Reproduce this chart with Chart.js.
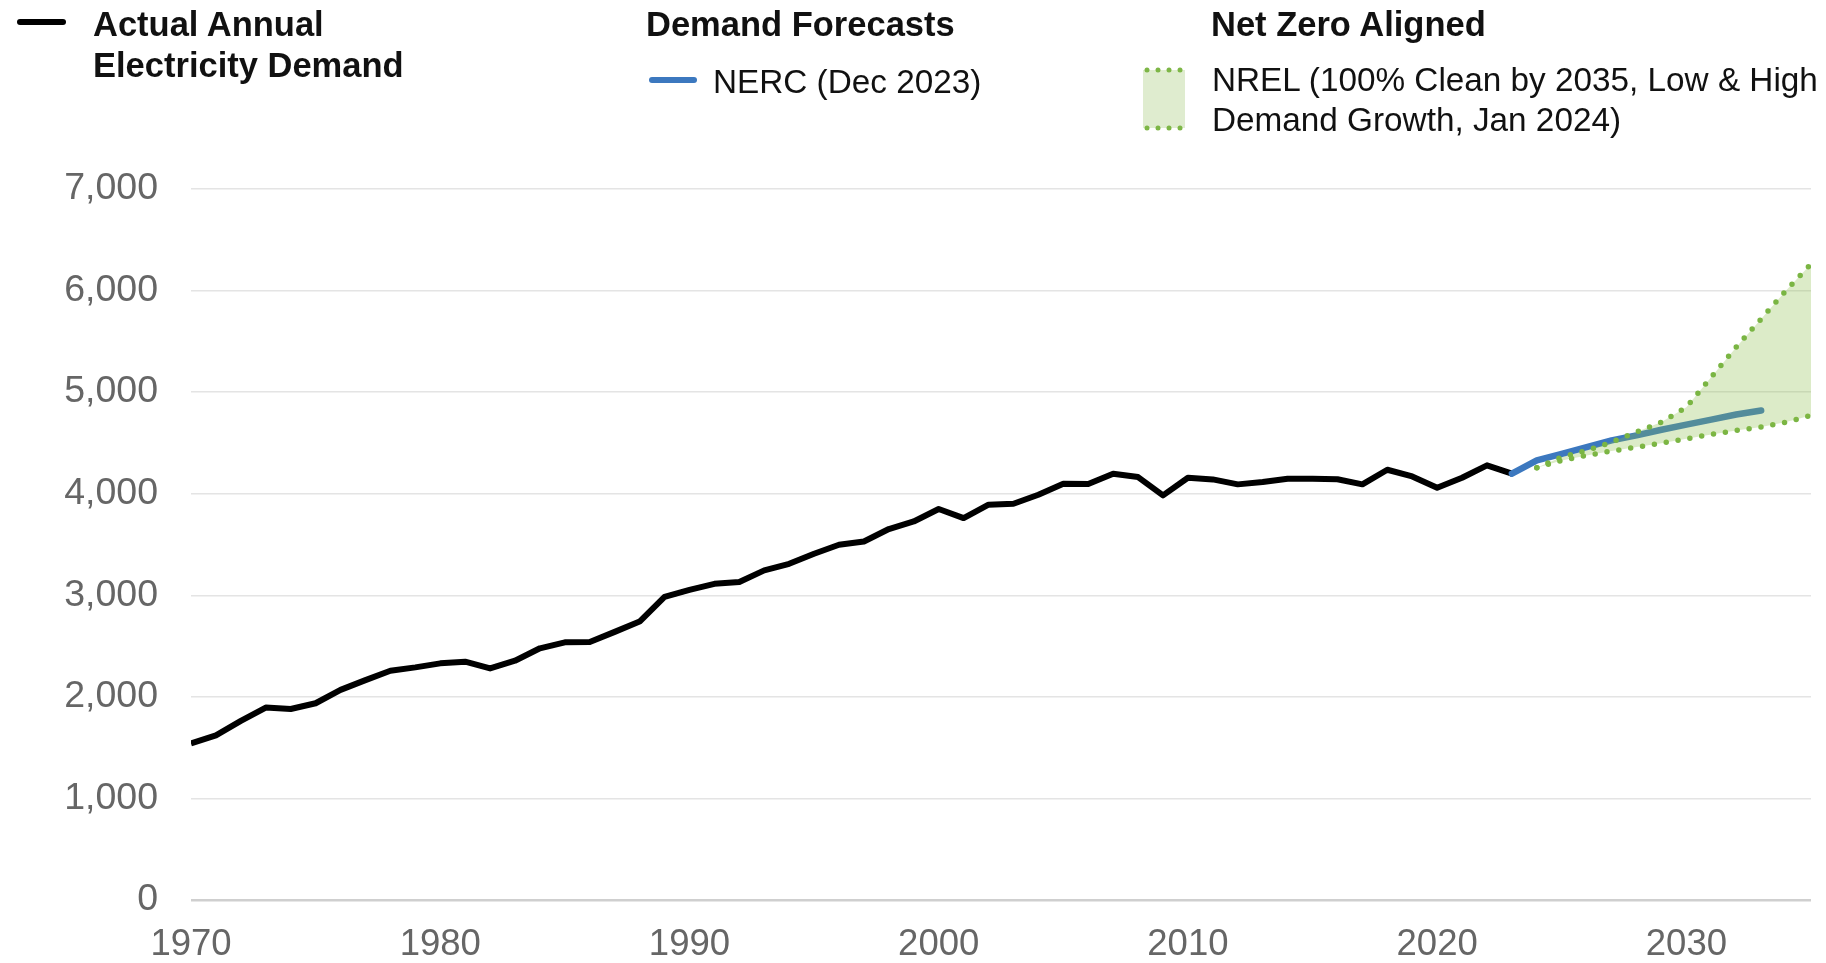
<!DOCTYPE html>
<html>
<head>
<meta charset="utf-8">
<script src="https://cdn.jsdelivr.net/npm/chart.js@4.4.1/dist/chart.umd.min.js"></script>
<style>
  body { margin: 0; background: #fff; }
  #wrap { position: relative; width: 1826px; height: 963px; font-family: "Liberation Sans", Arial, sans-serif; color: #111; }
  canvas { position: absolute; left: 0; top: 0; }
  .lg { position: absolute; white-space: nowrap; }
  .head { font-weight: bold; font-size: 34.5px; line-height: 41px; top: 4px; }
  .item { font-size: 33.3px; line-height: 39.5px; }
  .swatch { position: absolute; height: 5.5px; border-radius: 3px; }
</style>
</head>
<body>
<div id="wrap">
  <canvas id="demand" width="1826" height="963"></canvas>

  <div class="swatch" style="left:17px; top:19px; width:49px; background:#000;"></div>
  <div class="lg head" style="left:93px;">Actual Annual<br>Electricity Demand</div>

  <div class="lg head" style="left:646px;">Demand Forecasts</div>
  <div class="swatch" style="left:649px; top:77px; width:48px; background:#3c78bf;"></div>
  <div class="lg item" style="left:713px; top:62px;">NERC (Dec 2023)</div>

  <div class="lg head" style="left:1211px;">Net Zero Aligned</div>
  <svg class="lg" style="left:1141px; top:66px;" width="46" height="66">
    <rect x="2" y="4" width="42" height="58" fill="#dfeccf"/>
    <g fill="#7db646">
      <circle cx="6" cy="4" r="2.5"/><circle cx="17" cy="4" r="2.5"/><circle cx="28" cy="4" r="2.5"/><circle cx="39" cy="4" r="2.5"/>
      <circle cx="6" cy="62" r="2.5"/><circle cx="17" cy="62" r="2.5"/><circle cx="28" cy="62" r="2.5"/><circle cx="39" cy="62" r="2.5"/>
    </g>
  </svg>
  <div class="lg item" style="left:1212px; top:60px;">NREL (100% Clean by 2035, Low &amp; High<br>Demand Growth, Jan 2024)</div>
</div>

<script>
// actual annual electricity demand, 1970-2023
const actualStart = 1970;
const actualDemand = [
  1542, 1621, 1763, 1895, 1880, 1937, 2069, 2165, 2257, 2290,
  2330, 2346, 2280, 2356, 2478, 2537, 2540, 2640, 2741, 2985,
  3054, 3113, 3130, 3245, 3310, 3409, 3498, 3530, 3652, 3727,
  3849, 3760, 3892, 3901, 3990, 4098, 4095, 4197, 4164, 3984,
  4157, 4141, 4092, 4115, 4148, 4148, 4142, 4092, 4236, 4170,
  4059, 4157, 4279, 4197
];

// NERC forecast, 2023-2033
const nercStart = 2023;
const nercDemand = [4197, 4328, 4393, 4459, 4525, 4574, 4630, 4680, 4730, 4780, 4820];

// NREL 100% clean by 2035, 2024-2035
const nrelStart = 2024;
const nrelHigh = [4256, 4361, 4426, 4508, 4607, 4705, 4852, 5148, 5443, 5721, 6000, 6262];
const nrelLow  = [4256, 4328, 4377, 4420, 4459, 4498, 4541, 4584, 4623, 4656, 4705, 4770];

const xTicks = [1970, 1980, 1990, 2000, 2010, 2020, 2030];
const yTicks = [0, 1000, 2000, 3000, 4000, 5000, 6000, 7000];

const toPoints = (start, vals) => vals.map((v, i) => ({ x: start + i, y: v }));

const tickFont = { family: "'Liberation Sans', Arial, sans-serif" };

const ctx = document.getElementById("demand").getContext("2d");
const chart = new Chart(ctx, {
  type: "line",
  data: {
    datasets: [
      {
        label: "NREL high",
        data: toPoints(nrelStart, nrelHigh),
        borderColor: "#7ab543",
        borderWidth: 5.5,
        borderDash: [0, 12],
        borderCapStyle: "round",
        fill: "+1",
        backgroundColor: "rgba(138, 188, 72, 0.3)",
      },
      {
        label: "NREL low",
        data: toPoints(nrelStart, nrelLow),
        borderColor: "#7ab543",
        borderWidth: 5.5,
        borderDash: [0, 12],
        borderCapStyle: "round",
        fill: false,
      },
      {
        label: "NERC (Dec 2023)",
        data: toPoints(nercStart, nercDemand),
        borderColor: "#3c78bf",
        borderWidth: 6.5,
        borderCapStyle: "round",
        borderJoinStyle: "round",
        fill: false,
      },
      {
        label: "Actual Annual Electricity Demand",
        data: toPoints(actualStart, actualDemand),
        borderColor: "#000000",
        borderWidth: 6,
        borderJoinStyle: "round",
        fill: false,
      },
    ],
  },
  options: {
    responsive: false,
    animation: false,
    layout: { padding: { top: 189, right: 15, left: 0, bottom: 0 } },
    elements: { point: { radius: 0 }, line: { tension: 0 } },
    plugins: { legend: { display: false }, tooltip: { enabled: false } },
    scales: {
      x: {
        type: "linear",
        min: 1970,
        max: 2035,
        afterBuildTicks: (s) => { s.ticks = xTicks.map((v) => ({ value: v })); },
        afterFit: (s) => { s.height = 63; },
        grid: { display: false, drawTicks: false },
        border: { display: false },
        ticks: {
          autoSkip: false,
          maxRotation: 0,
          padding: 23,
          color: "#666666",
          font: { ...tickFont, size: 36.5 },
          callback: (v) => String(v),
        },
      },
      y: {
        min: 0,
        max: 7000,
        afterBuildTicks: (s) => { s.ticks = yTicks.map((v) => ({ value: v })); },
        afterFit: (s) => { s.width = 191; },
        grid: {
          drawTicks: false,
          color: (c) => (c.tick && c.tick.value === 0 ? "#cfcfcf" : "#e4e4e4"),
          lineWidth: (c) => (c.tick && c.tick.value === 0 ? 2.5 : 1.5),
        },
        border: { display: false },
        ticks: {
          padding: 33,
          color: "#666666",
          font: { ...tickFont, size: 37.5 },
          callback: (v) => v.toLocaleString("en-US"),
        },
      },
    },
  },
});
</script>
</body>
</html>
